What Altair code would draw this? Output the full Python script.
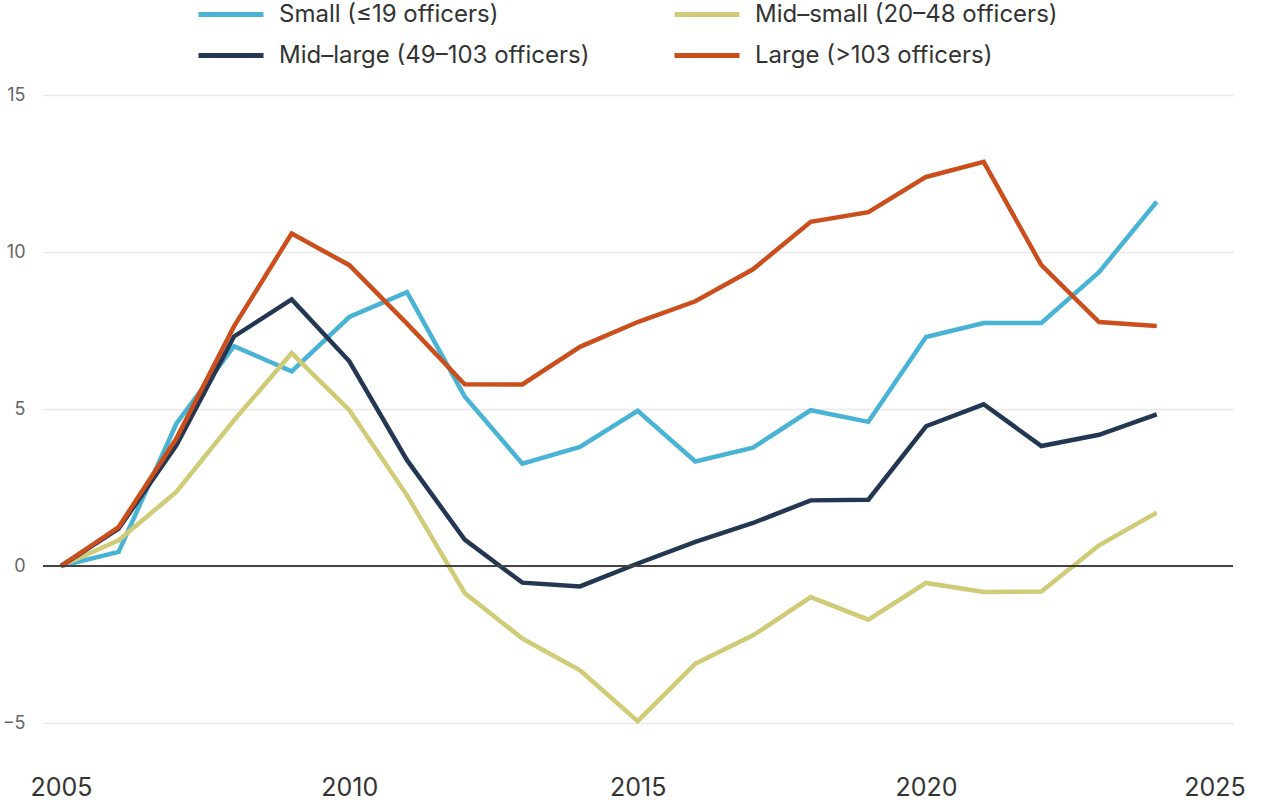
import altair as alt
import pandas as pd

# Cumulative change since 2005, by agency size
years = list(range(2005, 2025))

small = [0, 0.45, 4.53, 7.0, 6.2, 7.93, 8.72, 5.40, 3.26, 3.79,
         4.94, 3.33, 3.77, 4.96, 4.59, 7.29, 7.74, 7.74, 9.36, 11.6]
mid_small = [0, 0.82, 2.36, 4.64, 6.78, 4.96, 2.25, -0.86, -2.31, -3.32,
             -4.94, -3.11, -2.21, -0.99, -1.71, -0.54, -0.83, -0.81, 0.66, 1.70]
mid_large = [0, 1.19, 3.84, 7.31, 8.49, 6.52, 3.37, 0.84, -0.53, -0.65,
             0.08, 0.77, 1.37, 2.09, 2.11, 4.45, 5.15, 3.82, 4.18, 4.83]
large = [0, 1.24, 4.06, 7.63, 10.59, 9.58, 7.72, 5.79, 5.78, 6.98,
         7.77, 8.43, 9.45, 10.96, 11.27, 12.39, 12.87, 9.58, 7.77, 7.64]

series_names = [
    "Small (≤19 officers)",
    "Mid–small (20–48 officers)",
    "Mid–large (49–103 officers)",
    "Large (>103 officers)",
]
series_colors = ["#48b3d5", "#cfcb76", "#243752", "#cb4f1c"]
x_ticks = [2005, 2010, 2015, 2020, 2025]
y_ticks = [-5, 0, 5, 10, 15]

rows = []
for name, values in zip(series_names, [small, mid_small, mid_large, large]):
    for yr, v in zip(years, values):
        rows.append({"year": yr, "value": v, "series": name})
df = pd.DataFrame(rows)

FONT = "Inter"
Y_SCALE = alt.Scale(domain=[-5, 15], nice=False)
Y_AXIS = alt.Axis(
    values=y_ticks, title=None, domain=False, ticks=False,
    labelFontSize=18, labelColor="#666666", labelPadding=18,
    labelFont=FONT, gridColor="#e8e8e8", gridWidth=1.5,
)

x_enc = alt.X(
    "year:Q",
    scale=alt.Scale(domain=[2004.688, 2025.323], nice=False, zero=False),
    axis=alt.Axis(
        values=x_ticks, format="d", title=None, grid=False, domain=False,
        ticks=False, labelFontSize=25, labelColor="#333333",
        labelPadding=52, labelFont=FONT,
    ),
)

zero_line = alt.Chart(pd.DataFrame({"value": [0]})).mark_rule(
    color="#444444", strokeWidth=1.8
).encode(y=alt.Y("value:Q", scale=Y_SCALE, axis=Y_AXIS))

lines = alt.Chart(df).mark_line(strokeWidth=4.5, strokeJoin="miter", strokeCap="butt").encode(
    x=x_enc,
    y=alt.Y("value:Q", scale=Y_SCALE, axis=Y_AXIS),
    color=alt.Color(
        "series:N",
        sort=series_names,
        scale=alt.Scale(domain=series_names, range=series_colors),
        legend=alt.Legend(
            title=None, orient="none", legendX=153, legendY=-95.5,
            direction="horizontal", columns=2, symbolType="stroke",
            symbolSize=4225, symbolStrokeWidth=5, labelFontSize=24,
            labelFont=FONT, labelColor="#333333", labelOffset=13,
            labelLimit=0, columnPadding=82, rowPadding=11, padding=0,
            clipHeight=30,
        ),
    ),
    detail="series:N",
)

chart = (
    alt.layer(lines, zero_line)
    .properties(
        width=1190, height=628,
        padding={"left": 43, "top": 95, "right": 47, "bottom": 83},
        autosize=alt.AutoSizeParams(type="none"),
        background="#ffffff",
    )
    .configure_view(strokeWidth=0, stroke=None)
    .configure_axis(domain=False)
)

chart.save("out.html", embed_options={"renderer": "svg", "actions": False})
